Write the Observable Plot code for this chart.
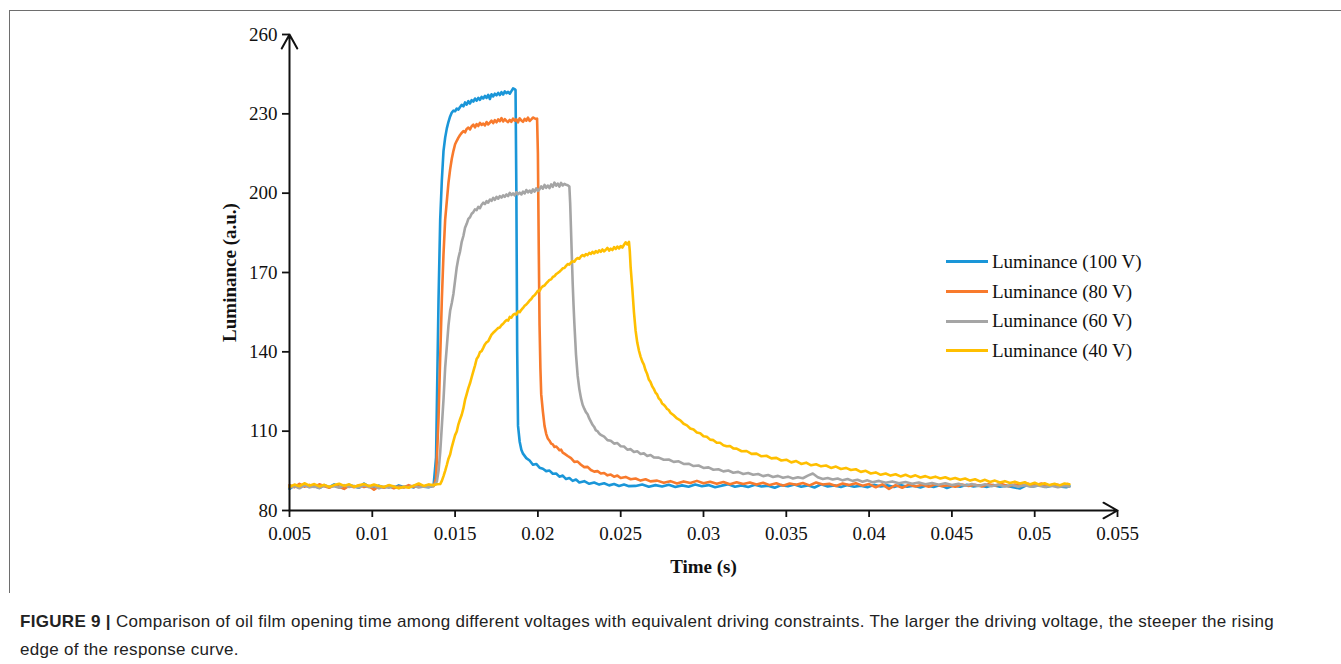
<!DOCTYPE html>
<html>
<head>
<meta charset="utf-8">
<script src="https://cdn.jsdelivr.net/npm/d3@7"></script>
<script src="https://cdn.jsdelivr.net/npm/@observablehq/plot@0.6"></script>
<style>
  html, body { margin: 0; padding: 0; background: #fff; }
  #wrap { position: relative; width: 1341px; height: 664px; overflow: hidden; }
  #frame { position: absolute; left: 9px; top: 10px; width: 1340px; height: 582px;
           border-top: 1.5px solid #6e6e6e; border-left: 1.5px solid #6e6e6e; }
  #chart { position: absolute; left: 0; top: 0; }
  #chart svg g[aria-label="x-axis tick"], #chart svg g[aria-label="y-axis tick"] { stroke-width: 1.8; }
  #legend { position: absolute; left: 946px; top: 247px; font-family: "Liberation Serif", serif; font-size: 19px; color: #111; }
  #legend .row { display: flex; align-items: center; height: 29.7px; }
  #legend .sw { width: 42px; height: 3px; margin-right: 4px; }
  #caption { position: absolute; left: 20px; top: 608px; font-family: "Liberation Sans", Arial, sans-serif;
             font-size: 17px; letter-spacing: 0.3px; line-height: 28px; color: #222; white-space: nowrap; }
  #caption b { font-weight: bold; margin-right: 5px; }
</style>
</head>
<body>
<div id="wrap">
  <div id="frame"></div>
  <div id="chart"></div>
  <div id="legend"></div>
  <div id="caption"><b>FIGURE 9 |</b><span>Comparison of oil film opening time among different voltages with equivalent driving constraints. The larger the driving voltage, the steeper the rising</span><br><span>edge of the response curve.</span></div>
</div>
<script>
// ---- Axis ticks ----
const xDomain = [0.005, 0.055];
const yDomain = [80, 260];
const xTicks = [0.005, 0.01, 0.015, 0.02, 0.025, 0.03, 0.035, 0.04, 0.045, 0.05, 0.055];
const xTickLabels = ["0.005", "0.01", "0.015", "0.02", "0.025", "0.03", "0.035", "0.04", "0.045", "0.05", "0.055"];
const yTicks = [80, 110, 140, 170, 200, 230, 260];
const xTitle = "Time (s)";
const yTitle = "Luminance (a.u.)";

const seriesNames = ["Luminance (100 V)", "Luminance (80 V)", "Luminance (60 V)", "Luminance (40 V)"];
const seriesColors = ["#1a96d8", "#f87a2c", "#a5a5a5", "#ffbf00"];

// ---- Series: [time (s), luminance (a.u.)] ----
const lum100 = [
[0.0050,88.2],[0.0053,89.5],[0.0056,88.6],[0.0059,89.8],[0.0062,88.9],[0.0065,89.3],[0.0068,88.5],[0.0071,89.6],[0.0074,88.8],[0.0077,89.9],
[0.0080,89.0],[0.0083,88.4],[0.0086,89.7],[0.0089,89.1],[0.0092,88.6],[0.0095,90.2],[0.0098,89.0],[0.0101,88.5],[0.0104,89.4],[0.0107,88.7],
[0.0110,89.2],[0.0113,88.6],[0.0116,89.5],[0.0119,88.9],[0.0122,89.3],[0.0125,88.7],[0.0128,89.8],[0.0131,89.0],[0.0134,88.8],[0.0137,89.4],
[0.01385,100],[0.0140,160],[0.0141,190],[0.0142,205],[0.0143,216],[0.0144,221],[0.0145,224.5],[0.0146,227],[0.0147,229],[0.0148,230.5],
[0.0149,231.2],[0.0150,231.0],[0.0151,232.0],[0.0152,231.6],[0.0153,232.6],[0.0154,233.4],[0.0155,232.8],[0.0156,234.3],[0.0157,233.5],[0.0158,234.8],
[0.0159,233.9],[0.0160,235.2],[0.0161,234.6],[0.0162,235.8],[0.0163,235.0],[0.0164,236.0],[0.0165,235.3],[0.0166,236.4],[0.0167,235.8],[0.0168,236.8],
[0.0169,236.0],[0.0170,237.2],[0.0171,235.6],[0.0172,237.4],[0.0173,236.6],[0.0174,237.6],[0.0175,237.0],[0.0176,237.9],[0.0177,237.1],[0.0178,238.2],
[0.0179,237.3],[0.0180,238.5],[0.0181,237.8],[0.0182,238.3],[0.0183,237.6],[0.0184,238.6],[0.0185,239.6],[0.0186,239.3],[0.01865,239.0],
[0.0187,200],[0.01875,140],[0.0188,112],[0.0189,106],[0.0190,103],[0.0191,101.5],[0.0193,99.8],[0.0195,98.9],[0.0197,97.3],[0.0199,97.6],
[0.0201,96.2],[0.0203,95.8],[0.0205,94.9],[0.0207,95.1],[0.0209,93.9],[0.0211,94.0],[0.0213,92.8],[0.0215,93.2],[0.0217,91.9],[0.0219,92.3],
[0.0221,91.2],[0.0223,91.7],[0.0225,90.6],[0.0228,91.1],[0.0231,90.1],[0.0234,90.6],[0.0237,89.8],[0.0240,90.3],[0.0243,89.5],[0.0246,90.0],
[0.0249,89.3],[0.0252,89.8],[0.0255,89.2],[0.0259,89.3],[0.0263,89.8],[0.0267,89.0],[0.0271,89.6],[0.0275,89.1],[0.0279,89.7],[0.0283,88.9],
[0.0287,89.5],[0.0291,89.0],[0.0295,89.8],[0.0299,89.2],[0.0303,89.6],[0.0307,88.8],[0.0311,89.4],[0.0315,89.9],[0.0319,89.0],[0.0323,89.5],
[0.0327,88.9],[0.0331,89.7],[0.0335,89.1],[0.0339,89.4],[0.0343,88.6],[0.0347,89.6],[0.0351,89.2],[0.0355,89.8],[0.0359,89.0],[0.0363,89.5],
[0.0367,88.7],[0.0371,89.9],[0.0375,89.1],[0.0379,89.5],[0.0383,88.9],[0.0387,89.6],[0.0391,89.0],[0.0395,89.4],[0.0399,88.8],[0.0403,89.7],
[0.0407,89.1],[0.0411,89.5],[0.0415,88.9],[0.0419,89.6],[0.0423,89.0],[0.0427,89.4],[0.0431,88.7],[0.0435,89.5],[0.0439,88.9],[0.0443,89.6],
[0.0447,88.5],[0.0451,89.4],[0.0455,89.0],[0.0459,89.7],[0.0463,89.1],[0.0467,89.5],[0.0471,88.9],[0.0475,89.6],[0.0479,89.0],[0.0483,89.4],
[0.0487,88.8],[0.0491,88.3],[0.0495,89.5],[0.0499,89.1],[0.0503,89.6],[0.0507,88.9],[0.0511,89.5],[0.0515,89.1],[0.0519,88.8],[0.0521,89.2]
];

const lum80 = [
[0.0050,89.6],[0.0053,88.8],[0.0056,90.1],[0.0059,89.0],[0.0062,89.7],[0.0065,88.9],[0.0068,89.9],[0.0071,89.2],[0.0074,88.6],[0.0077,89.5],
[0.0080,89.0],[0.0083,88.2],[0.0086,89.4],[0.0089,88.8],[0.0092,89.6],[0.0095,88.9],[0.0098,89.3],[0.0101,87.9],[0.0104,89.2],[0.0107,88.6],
[0.0110,89.5],[0.0113,88.4],[0.0116,89.1],[0.0119,88.7],[0.0122,89.6],[0.0125,88.9],[0.0128,89.3],[0.0131,89.0],[0.0134,89.7],[0.0137,89.2],
[0.01385,92],[0.0140,115],[0.0141,138],[0.0142,160],[0.0143,177],[0.0144,190],[0.0145,197],[0.0146,204],[0.0147,209],[0.0148,213],
[0.0149,216],[0.0150,218.5],[0.0151,219.8],[0.0152,221.0],[0.0153,222.0],[0.0154,222.8],[0.0155,223.5],[0.0156,223.0],[0.0157,224.3],[0.0158,224.8],
[0.0159,224.1],[0.0160,225.3],[0.0161,225.9],[0.0162,224.9],[0.0163,226.1],[0.0164,225.4],[0.0165,226.6],[0.0166,225.8],[0.0167,226.3],[0.0168,225.6],
[0.0169,226.9],[0.0170,226.0],[0.0171,226.7],[0.0172,227.4],[0.0173,226.5],[0.0174,227.6],[0.0175,226.8],[0.0176,227.9],[0.0177,227.2],[0.0178,228.4],
[0.0179,227.1],[0.0180,228.0],[0.0181,227.3],[0.0182,226.9],[0.0183,227.7],[0.0184,227.0],[0.0185,228.2],[0.0186,227.4],[0.0187,227.9],[0.0188,226.8],
[0.0189,228.3],[0.0190,227.5],[0.0191,227.0],[0.0192,228.1],[0.0193,227.4],[0.0194,228.6],[0.0195,227.3],[0.0196,227.9],[0.0197,228.6],[0.0198,228.3],
[0.0199,228.0],[0.01995,228.2],[0.0200,215],[0.02005,180],[0.0201,150],[0.02015,134],[0.0202,124],[0.0203,117.5],[0.0204,112],[0.0205,109],
[0.0206,107.2],[0.0207,106.4],[0.0208,105.3],[0.0209,105.0],[0.0210,104.0],[0.0211,104.2],[0.0212,103.6],[0.0213,102.8],[0.0214,103.0],[0.0215,101.9],
[0.0216,101.5],[0.0218,100.6],[0.0220,99.8],[0.0222,98.4],[0.0224,98.5],[0.0226,97.3],[0.0228,96.4],[0.0230,96.5],[0.0232,95.3],[0.0234,94.7],
[0.0236,94.9],[0.0238,94.0],[0.0240,94.2],[0.0242,93.3],[0.0244,93.6],[0.0246,92.8],[0.0248,93.2],[0.0250,92.3],[0.0253,92.7],[0.0256,91.8],
[0.0259,92.1],[0.0262,91.3],[0.0265,91.8],[0.0268,91.0],[0.0272,91.3],[0.0276,90.5],[0.0280,91.1],[0.0284,90.2],[0.0288,91.0],[0.0292,90.4],
[0.0296,91.2],[0.0300,90.3],[0.0304,90.9],[0.0308,90.1],[0.0312,90.8],[0.0316,89.9],[0.0320,90.7],[0.0324,90.0],[0.0328,90.6],[0.0332,89.8],
[0.0336,90.5],[0.0340,89.6],[0.0344,90.3],[0.0348,89.4],[0.0352,90.2],[0.0356,89.7],[0.0360,90.4],[0.0364,89.5],[0.0368,90.6],[0.0372,89.8],
[0.0376,90.1],[0.0380,89.3],[0.0384,90.2],[0.0388,89.6],[0.0392,90.3],[0.0396,89.4],[0.0400,90.0],[0.0404,88.8],[0.0408,89.9],[0.0412,88.2],
[0.0416,89.6],[0.0420,88.6],[0.0424,89.8],[0.0428,89.1],[0.0432,89.7],[0.0436,89.0],[0.0440,89.9],[0.0444,89.2],[0.0448,89.6],[0.0452,89.0],
[0.0456,89.8],[0.0460,89.3],[0.0464,89.7],[0.0468,89.1],[0.0472,89.9],[0.0476,89.4],[0.0480,90.0],[0.0484,89.2],[0.0488,89.8],[0.0492,89.4],
[0.0496,90.1],[0.0500,89.5],[0.0504,90.2],[0.0508,89.3],[0.0512,89.9],[0.0516,89.4],[0.0520,90.0]
];

const lum60 = [
[0.0050,88.6],[0.0053,89.2],[0.0056,88.4],[0.0059,89.5],[0.0062,88.8],[0.0065,89.1],[0.0068,88.5],[0.0071,89.4],[0.0074,88.9],[0.0077,89.2],
[0.0080,88.6],[0.0083,89.6],[0.0086,88.9],[0.0089,89.3],[0.0092,88.7],[0.0095,89.5],[0.0098,88.8],[0.0101,89.3],[0.0104,88.4],[0.0107,89.0],
[0.0110,88.6],[0.0113,89.2],[0.0116,88.5],[0.0119,89.0],[0.0122,88.8],[0.0125,89.4],[0.0128,88.7],[0.0131,89.1],[0.0134,88.9],[0.0137,89.3],
[0.0139,91],[0.0140,95],[0.0141,102],[0.0142,112],[0.0143,122],[0.0144,134],[0.0145,142],[0.0146,150],[0.0147,155.5],[0.0148,158.5],
[0.0149,162],[0.0150,167],[0.0151,172],[0.0152,175.5],[0.0153,178],[0.0154,181.6],[0.0155,183.8],[0.0156,186.9],[0.0157,188.4],[0.0158,190.3],
[0.0159,190.9],[0.0160,192.2],[0.0161,192.8],[0.0162,193.9],[0.0163,193.6],[0.0164,194.8],[0.0165,194.3],[0.0166,195.6],[0.0167,196.4],[0.0168,195.9],
[0.0169,197.0],[0.0170,196.4],[0.0171,197.6],[0.0172,197.1],[0.0173,198.2],[0.0174,197.5],[0.0175,198.6],[0.0176,197.9],[0.0177,198.9],[0.0178,198.3],
[0.0179,199.2],[0.0180,198.6],[0.0181,199.5],[0.0182,198.9],[0.0183,200.1],[0.0184,199.3],[0.0185,199.9],[0.0186,199.2],[0.0187,200.4],[0.0188,199.6],
[0.0189,200.2],[0.0190,199.5],[0.0191,200.6],[0.0192,199.9],[0.0193,201.2],[0.0194,200.3],[0.0195,201.0],[0.0196,200.2],[0.0197,201.4],[0.0198,200.6],
[0.0199,201.8],[0.0200,200.9],[0.0201,201.5],[0.0202,202.6],[0.0203,201.7],[0.0204,203.1],[0.0205,202.0],[0.0206,202.9],[0.0207,201.9],[0.0208,203.3],
[0.0209,202.4],[0.0210,204.0],[0.0211,202.8],[0.0212,203.6],[0.0213,202.5],[0.0214,203.9],[0.0215,202.9],[0.0216,203.5],[0.0217,203.2],[0.0218,203.0],
[0.0219,202.5],[0.02195,196],[0.0220,186],[0.02205,176],[0.0221,166],[0.02215,158],[0.0222,151],[0.0223,139],[0.0224,131],[0.0225,126],
[0.0226,122.5],[0.0227,120],[0.0228,118.5],[0.0229,117.2],[0.0230,116.4],[0.0231,114.8],[0.0232,113.6],[0.0233,112.4],[0.0234,111.6],[0.0235,110.3],
[0.0236,110.0],[0.0237,109.1],[0.0238,108.6],[0.0240,107.9],[0.0242,106.6],[0.0244,106.4],[0.0246,105.3],[0.0248,105.5],[0.0250,104.3],[0.0252,104.2],
[0.0254,103.0],[0.0256,103.2],[0.0258,102.1],[0.0260,102.4],[0.0262,101.4],[0.0264,101.6],[0.0266,100.6],[0.0268,101.0],[0.0270,100.1],[0.0273,100.0],
[0.0276,99.2],[0.0279,99.3],[0.0282,98.4],[0.0285,98.6],[0.0288,97.6],[0.0291,97.7],[0.0294,96.8],[0.0297,97.0],[0.0300,96.1],[0.0303,96.3],
[0.0306,95.4],[0.0309,95.6],[0.0312,94.8],[0.0315,95.1],[0.0318,94.3],[0.0321,94.6],[0.0324,93.8],[0.0327,94.2],[0.0330,93.5],[0.0333,93.8],
[0.0336,93.0],[0.0339,93.4],[0.0342,92.7],[0.0345,93.1],[0.0348,92.4],[0.0351,92.8],[0.0354,92.1],[0.0357,92.6],[0.0360,92.2],[0.0363,93.2],
[0.0366,94.0],[0.0369,92.6],[0.0372,91.9],[0.0375,92.3],[0.0378,91.7],[0.0381,92.1],[0.0384,91.4],[0.0387,91.9],[0.0390,91.2],[0.0393,91.6],
[0.0396,90.9],[0.0399,91.4],[0.0402,90.7],[0.0406,91.2],[0.0410,90.5],[0.0414,91.0],[0.0418,90.3],[0.0422,90.8],[0.0426,90.1],[0.0430,90.6],
[0.0434,89.9],[0.0438,90.4],[0.0442,89.7],[0.0446,90.3],[0.0450,89.6],[0.0454,90.1],[0.0458,89.4],[0.0462,90.0],[0.0466,89.3],[0.0470,89.9],
[0.0474,89.2],[0.0478,89.8],[0.0482,89.1],[0.0486,89.7],[0.0490,89.0],[0.0494,89.6],[0.0498,89.0],[0.0502,89.5],[0.0506,88.9],[0.0510,89.4],
[0.0514,88.8],[0.0518,89.3],[0.0521,89.0]
];

const lum40 = [
[0.0050,89.0],[0.0053,89.8],[0.0056,89.2],[0.0059,90.3],[0.0062,89.4],[0.0065,90.0],[0.0068,89.1],[0.0071,89.7],[0.0074,88.9],[0.0077,89.6],
[0.0080,90.1],[0.0083,89.3],[0.0086,89.9],[0.0089,89.0],[0.0092,89.5],[0.0095,90.0],[0.0098,89.2],[0.0101,89.8],[0.0104,89.3],[0.0107,88.9],
[0.0110,89.6],[0.0113,89.1],[0.0116,88.4],[0.0119,89.0],[0.0122,88.6],[0.0125,89.4],[0.0128,90.2],[0.0131,89.3],[0.0134,89.8],[0.0137,89.6],
[0.0139,89.9],[0.0141,90.0],[0.0142,91.2],[0.0143,93.0],[0.0144,95.0],[0.0145,97.2],[0.0146,99.6],[0.0147,101.2],[0.0148,104.0],[0.0149,106.2],
[0.0150,108.5],[0.0151,109.9],[0.0152,112.6],[0.0153,114.5],[0.0154,116.2],[0.0155,118.6],[0.0156,121.8],[0.0157,124.0],[0.0158,126.3],[0.0159,128.1],
[0.0160,130.4],[0.0161,132.6],[0.0162,134.8],[0.0163,137.3],[0.0164,138.2],[0.0165,139.9],[0.0166,140.3],[0.0167,141.5],[0.0168,142.8],[0.0169,143.6],
[0.0170,144.0],[0.0171,145.3],[0.0172,146.5],[0.0173,147.2],[0.0174,147.8],[0.0175,148.4],[0.0176,149.0],[0.0177,149.2],[0.0178,150.1],[0.0179,150.6],
[0.0180,151.4],[0.0181,152.0],[0.0182,151.8],[0.0183,153.2],[0.0184,152.9],[0.0185,154.0],[0.0186,154.4],[0.0187,154.1],[0.0188,155.3],[0.0189,155.0],
[0.0190,155.9],[0.0191,156.6],[0.0192,157.4],[0.0193,157.9],[0.0194,158.6],[0.0195,159.4],[0.0196,160.0],[0.0197,160.9],[0.0198,161.4],[0.0199,162.2],
[0.0200,163.1],[0.0201,163.0],[0.0202,164.2],[0.0203,164.8],[0.0204,165.1],[0.0205,165.9],[0.0206,166.5],[0.0207,167.2],[0.0208,167.4],[0.0209,168.3],
[0.0210,168.6],[0.0211,169.4],[0.0212,169.8],[0.0213,170.3],[0.0214,170.9],[0.0215,171.6],[0.0216,171.7],[0.0217,172.5],[0.0218,173.2],[0.0219,173.0],
[0.0220,173.8],[0.0221,174.3],[0.0222,174.1],[0.0223,175.0],[0.0224,175.5],[0.0225,175.2],[0.0226,176.1],[0.0227,176.6],[0.0228,176.2],[0.0229,177.0],
[0.0230,176.6],[0.0231,177.4],[0.0232,177.0],[0.0233,177.8],[0.0234,177.2],[0.0235,178.1],[0.0236,177.5],[0.0237,178.4],[0.0238,177.8],[0.0239,178.7],
[0.0240,178.0],[0.0241,178.6],[0.0242,179.3],[0.0243,178.3],[0.0244,179.0],[0.0245,178.5],[0.0246,179.6],[0.0247,178.9],[0.0248,179.8],[0.0249,179.1],
[0.0250,180.0],[0.0251,179.4],[0.0252,180.5],[0.0253,181.4],[0.0254,180.6],[0.0255,181.6],[0.02555,178],[0.0256,172],[0.0257,164],[0.0258,155],
[0.0259,148],[0.0260,143.5],[0.0261,140.5],[0.0262,138.2],[0.0263,136.4],[0.0264,135.2],[0.0265,133.0],[0.0266,131.6],[0.0267,129.5],[0.0268,128.6],
[0.0269,127.0],[0.0270,126.0],[0.0271,124.6],[0.0272,123.9],[0.0273,122.4],[0.0274,121.8],[0.0275,120.5],[0.0276,120.0],[0.0277,119.3],[0.0278,118.4],
[0.0279,118.0],[0.0280,117.0],[0.0282,116.0],[0.0284,114.8],[0.0286,114.1],[0.0288,112.8],[0.0290,112.2],[0.0292,111.0],[0.0294,110.6],[0.0296,109.5],
[0.0298,109.2],[0.0300,108.1],[0.0302,107.9],[0.0304,106.8],[0.0306,106.6],[0.0308,105.6],[0.0310,105.6],[0.0312,104.7],[0.0314,104.3],[0.0316,104.4],
[0.0318,103.5],[0.0320,103.4],[0.0323,102.4],[0.0326,102.5],[0.0329,101.4],[0.0332,101.5],[0.0335,100.5],[0.0338,100.7],[0.0341,99.7],[0.0344,99.9],
[0.0347,98.9],[0.0350,99.2],[0.0353,98.2],[0.0356,98.7],[0.0359,97.6],[0.0362,98.1],[0.0365,97.1],[0.0368,97.5],[0.0371,96.7],[0.0374,97.0],
[0.0377,96.1],[0.0380,96.6],[0.0383,95.7],[0.0386,96.1],[0.0389,95.3],[0.0392,95.6],[0.0395,94.6],[0.0398,95.0],[0.0401,94.0],[0.0404,94.4],
[0.0407,93.5],[0.0410,94.0],[0.0413,93.2],[0.0416,93.7],[0.0419,92.9],[0.0422,93.5],[0.0425,92.7],[0.0428,93.3],[0.0431,92.5],[0.0434,93.0],
[0.0437,92.3],[0.0440,92.8],[0.0443,92.1],[0.0446,92.6],[0.0449,91.8],[0.0452,92.3],[0.0455,91.6],[0.0458,92.1],[0.0461,91.3],[0.0464,91.8],
[0.0467,91.0],[0.0470,91.6],[0.0473,90.8],[0.0476,91.3],[0.0479,90.6],[0.0482,91.1],[0.0485,90.4],[0.0488,90.9],[0.0491,90.2],[0.0494,90.7],
[0.0497,89.8],[0.0500,90.5],[0.0503,89.7],[0.0506,90.3],[0.0509,89.6],[0.0512,90.1],[0.0515,89.5],[0.0518,90.2],[0.0521,89.9]
];

// ---- Build rows ----
const seriesData = [lum100, lum80, lum60, lum40];
const rows = seriesData.flatMap((arr, i) => arr.map(([t, v]) => ({t, v, name: seriesNames[i]})));

const chart = Plot.plot({
  width: 1341,
  height: 592,
  marginLeft: 289,
  marginRight: 224,
  marginTop: 34,
  marginBottom: 82,
  style: {fontFamily: "'Liberation Serif', 'Times New Roman', serif", fontSize: "19px", color: "#111", background: "transparent"},
  x: {domain: xDomain, ticks: xTicks, tickFormat: d => xTickLabels[xTicks.indexOf(d)], tickSize: 7, tickPadding: 9, label: null},
  y: {domain: yDomain, ticks: yTicks, tickSize: 7, tickPadding: 5, label: null},
  color: {domain: seriesNames, range: seriesColors},
  marks: [
    Plot.lineY(rows, {x: "t", y: "v", z: "name", stroke: "name", strokeWidth: 2.6, strokeLinejoin: "round", strokeLinecap: "round"}),
    Plot.arrow([0], {x1: () => xDomain[0], y1: () => yDomain[0], x2: () => xDomain[1], y2: () => yDomain[0], stroke: "#111", strokeWidth: 2, headLength: 12, headAngle: 58}),
    Plot.arrow([0], {x1: () => xDomain[0], y1: () => yDomain[0], x2: () => xDomain[0], y2: () => yDomain[1], stroke: "#111", strokeWidth: 2, headLength: 12, headAngle: 58}),
    Plot.text([xTitle], {text: d => d, frameAnchor: "bottom", dy: 56, fontWeight: "bold", fontSize: 19, textAnchor: "middle", lineAnchor: "middle", fill: "#111"}),
    Plot.text([yTitle], {text: d => d, frameAnchor: "left", dx: -60, rotate: -90, fontWeight: "bold", fontSize: 19, textAnchor: "middle", lineAnchor: "middle", fill: "#111"})
  ]
});
document.getElementById("chart").appendChild(chart);

// ---- Legend ----
const legend = document.getElementById("legend");
seriesNames.forEach((n, i) => {
  const row = document.createElement("div");
  row.className = "row";
  const sw = document.createElement("div");
  sw.className = "sw";
  sw.style.background = seriesColors[i];
  const tx = document.createElement("span");
  tx.textContent = n;
  row.appendChild(sw);
  row.appendChild(tx);
  legend.appendChild(row);
});
</script>
</body>
</html>
